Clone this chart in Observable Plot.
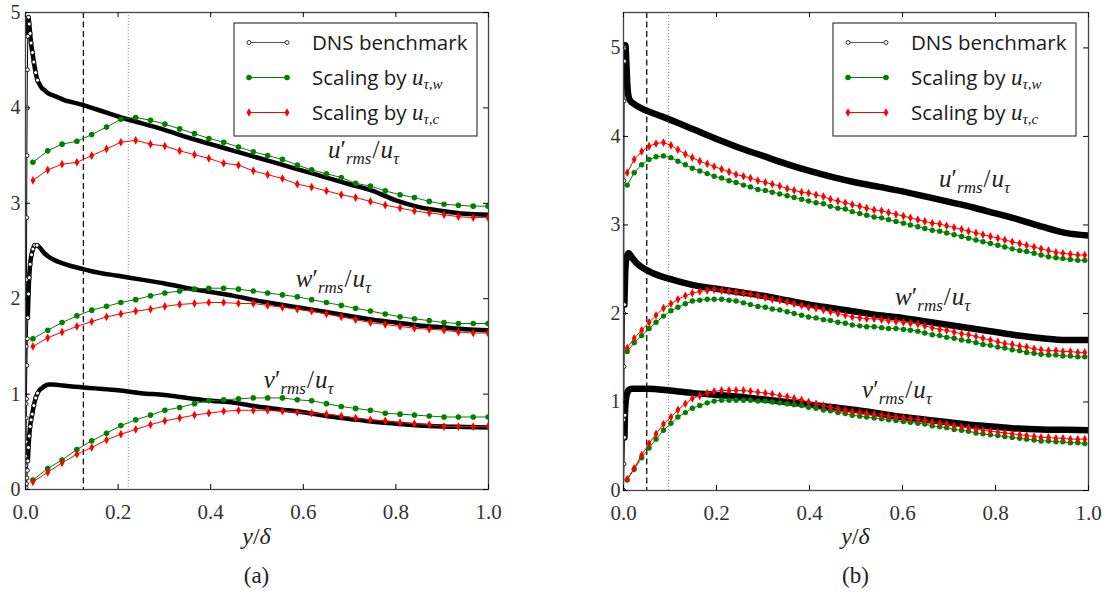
<!DOCTYPE html>
<html>
<head>
<meta charset="utf-8">
<script src="https://cdn.jsdelivr.net/npm/d3@7"></script>
<script src="https://cdn.jsdelivr.net/npm/@observablehq/plot@0.6"></script>
<style>
html,body{margin:0;padding:0;background:#fff;}
#root{position:relative;width:1112px;height:594px;overflow:hidden;background:#fff;}
#root svg{position:absolute;top:0;}
</style>
</head>
<body>
<div id="root"></div>
<script>
// ---------- ticks ----------
const xTicks = [0, 0.2, 0.4, 0.6, 0.8, 1.0];
const yTicks = [0, 1, 2, 3, 4, 5];

// ---------- panel (a) : DNS benchmark ----------
const aDnsUx = [0,0.0005,0.001,0.0015,0.002,0.0025,0.003,0.0035,0.004,0.005,0.0065,0.008,0.01,0.012,0.015,0.018,0.022,0.026,0.03,0.035,0.04,0.05,0.06,0.07,0.085,0.1,0.125,0.15,0.175,0.2,0.25,0.3,0.35,0.4,0.45,0.5,0.55,0.6,0.65,0.7,0.75,0.8,0.85,0.9,0.95,1.0];
const aDnsU  = [0,0.35,0.9,1.5,2.2,2.85,3.5,4.0,4.4,4.75,4.95,4.88,4.78,4.68,4.58,4.48,4.37,4.29,4.25,4.21,4.19,4.15,4.13,4.11,4.08,4.06,4.03,3.99,3.95,3.91,3.84,3.77,3.69,3.62,3.55,3.48,3.41,3.34,3.27,3.20,3.13,3.03,2.96,2.92,2.89,2.88];
const aDnsWx = [0,0.0005,0.001,0.0015,0.002,0.003,0.004,0.005,0.0065,0.008,0.01,0.013,0.016,0.02,0.025,0.03,0.04,0.05,0.06,0.08,0.1,0.125,0.15,0.2,0.25,0.3,0.35,0.4,0.45,0.5,0.55,0.6,0.65,0.7,0.75,0.8,0.85,0.9,0.95,1.0];
const aDnsW  = [0,0.25,0.5,0.75,0.95,1.3,1.58,1.8,2.05,2.22,2.36,2.46,2.52,2.56,2.56,2.54,2.48,2.44,2.41,2.37,2.34,2.31,2.28,2.24,2.20,2.16,2.11,2.07,2.03,1.98,1.94,1.90,1.86,1.82,1.78,1.75,1.72,1.70,1.68,1.67];
const aDnsVx = [0,0.001,0.002,0.003,0.004,0.005,0.0065,0.008,0.01,0.012,0.0145,0.018,0.022,0.026,0.03,0.035,0.04,0.05,0.06,0.08,0.1,0.125,0.15,0.2,0.25,0.3,0.35,0.4,0.45,0.5,0.55,0.6,0.65,0.7,0.75,0.8,0.85,0.9,0.95,1.0];
const aDnsV  = [0,0.02,0.06,0.12,0.2,0.3,0.44,0.56,0.66,0.73,0.79,0.88,0.96,1.01,1.04,1.06,1.08,1.10,1.10,1.09,1.08,1.07,1.06,1.04,1.01,0.99,0.96,0.93,0.91,0.87,0.84,0.81,0.77,0.74,0.71,0.69,0.67,0.66,0.655,0.65];

// ---------- panel (a) : scaled LES ----------
const aSimX = [0.016,0.048,0.079,0.111,0.143,0.175,0.206,0.238,0.270,0.301,0.333,0.365,0.396,0.428,0.460,0.492,0.523,0.555,0.587,0.618,0.650,0.682,0.713,0.745,0.777,0.809,0.840,0.872,0.904,0.935,0.967,0.999];
const aGreenU = [3.43,3.55,3.62,3.65,3.72,3.80,3.88,3.90,3.87,3.83,3.78,3.73,3.68,3.64,3.59,3.54,3.50,3.46,3.40,3.35,3.31,3.27,3.21,3.18,3.13,3.09,3.06,3.02,2.99,2.98,2.97,2.97];
const aRedU   = [3.24,3.35,3.41,3.43,3.50,3.57,3.64,3.66,3.62,3.60,3.55,3.51,3.47,3.42,3.40,3.34,3.30,3.26,3.20,3.17,3.13,3.09,3.06,3.02,2.98,2.95,2.92,2.90,2.88,2.86,2.85,2.85];
const aGreenW = [1.58,1.67,1.75,1.82,1.88,1.92,1.96,1.99,2.03,2.06,2.08,2.10,2.11,2.11,2.10,2.08,2.06,2.04,2.02,1.99,1.96,1.93,1.90,1.87,1.84,1.81,1.79,1.77,1.75,1.74,1.74,1.74];
const aRedW   = [1.50,1.59,1.65,1.71,1.76,1.81,1.84,1.87,1.89,1.92,1.94,1.95,1.96,1.96,1.95,1.95,1.93,1.91,1.89,1.87,1.84,1.81,1.78,1.75,1.73,1.71,1.69,1.68,1.67,1.65,1.64,1.64];
const aGreenV = [0.10,0.22,0.31,0.42,0.51,0.59,0.67,0.73,0.78,0.83,0.86,0.90,0.93,0.94,0.95,0.96,0.96,0.96,0.94,0.93,0.90,0.87,0.85,0.83,0.80,0.79,0.78,0.77,0.76,0.76,0.76,0.76];
const aRedV   = [0.08,0.18,0.28,0.37,0.44,0.52,0.58,0.63,0.68,0.72,0.75,0.78,0.80,0.82,0.83,0.83,0.83,0.82,0.81,0.80,0.79,0.77,0.75,0.73,0.72,0.70,0.69,0.68,0.66,0.66,0.66,0.66];

// ---------- panel (b) : DNS benchmark ----------
const bDnsUx = [0,0.0004,0.0008,0.0013,0.002,0.003,0.004,0.006,0.008,0.011,0.015,0.022,0.03,0.05,0.075,0.1,0.15,0.2,0.25,0.3,0.35,0.4,0.45,0.5,0.55,0.6,0.65,0.7,0.75,0.8,0.85,0.9,0.95,1.0];
const bDnsU  = [0,2.0,3.5,4.4,4.85,5.0,5.03,4.85,4.6,4.45,4.4,4.37,4.34,4.29,4.24,4.19,4.08,3.97,3.87,3.78,3.69,3.61,3.54,3.48,3.43,3.38,3.32,3.26,3.20,3.13,3.06,2.98,2.91,2.88];
const bDnsWx = [0,0.0005,0.001,0.002,0.004,0.007,0.011,0.02,0.03,0.05,0.075,0.1,0.15,0.2,0.25,0.3,0.35,0.4,0.45,0.5,0.55,0.6,0.65,0.7,0.75,0.8,0.85,0.9,0.95,1.0];
const bDnsW  = [0,0.8,1.4,2.1,2.5,2.64,2.68,2.62,2.56,2.49,2.43,2.39,2.32,2.28,2.24,2.20,2.15,2.10,2.06,2.02,1.98,1.95,1.91,1.87,1.83,1.79,1.75,1.72,1.70,1.70];
const bDnsVx = [0,0.001,0.002,0.003,0.005,0.008,0.012,0.02,0.05,0.1,0.15,0.2,0.25,0.3,0.35,0.4,0.45,0.5,0.55,0.6,0.65,0.7,0.75,0.8,0.85,0.9,0.95,1.0];
const bDnsV  = [0,0.3,0.6,0.85,1.02,1.10,1.14,1.15,1.15,1.13,1.10,1.08,1.06,1.03,1.00,0.97,0.94,0.91,0.87,0.83,0.80,0.77,0.74,0.72,0.70,0.69,0.685,0.68];

// ---------- panel (b) : scaled LES ----------
const bSimX = [0.008,0.023,0.039,0.055,0.070,0.086,0.102,0.117,0.133,0.148,0.164,0.180,0.195,0.211,0.227,0.242,0.258,0.273,0.289,0.305,0.320,0.336,0.352,0.367,0.383,0.398,0.414,0.430,0.445,0.461,0.477,0.492,0.508,0.523,0.539,0.555,0.570,0.586,0.602,0.617,0.633,0.648,0.664,0.680,0.695,0.711,0.727,0.742,0.758,0.773,0.789,0.805,0.820,0.836,0.852,0.867,0.883,0.898,0.914,0.930,0.945,0.961,0.977,0.992];
const bRedU   = [3.59,3.74,3.83,3.89,3.92,3.93,3.90,3.85,3.80,3.76,3.72,3.69,3.66,3.63,3.60,3.57,3.55,3.53,3.50,3.48,3.46,3.44,3.41,3.39,3.37,3.36,3.34,3.32,3.29,3.27,3.25,3.23,3.21,3.19,3.17,3.16,3.14,3.12,3.10,3.08,3.06,3.04,3.02,3.01,2.99,2.97,2.95,2.93,2.91,2.89,2.87,2.85,2.83,2.81,2.79,2.77,2.75,2.73,2.71,2.69,2.68,2.67,2.66,2.66];
const bGreenU = [3.45,3.59,3.68,3.74,3.77,3.78,3.76,3.72,3.68,3.64,3.61,3.58,3.55,3.53,3.50,3.48,3.45,3.43,3.40,3.39,3.37,3.35,3.33,3.31,3.29,3.27,3.25,3.24,3.21,3.19,3.18,3.15,3.13,3.11,3.09,3.08,3.06,3.04,3.02,3.00,2.98,2.96,2.94,2.93,2.91,2.89,2.87,2.85,2.83,2.81,2.79,2.77,2.75,2.73,2.71,2.70,2.68,2.66,2.64,2.63,2.62,2.61,2.60,2.60];
const bRedW   = [1.61,1.72,1.81,1.90,1.98,2.06,2.11,2.16,2.20,2.23,2.25,2.26,2.27,2.26,2.25,2.24,2.23,2.22,2.20,2.18,2.16,2.15,2.13,2.11,2.09,2.07,2.06,2.04,2.02,2.00,1.98,1.96,1.95,1.94,1.94,1.93,1.92,1.91,1.90,1.89,1.88,1.86,1.84,1.82,1.81,1.79,1.77,1.76,1.74,1.72,1.70,1.68,1.66,1.65,1.63,1.62,1.60,1.59,1.58,1.58,1.57,1.57,1.56,1.56];
const bGreenW = [1.57,1.67,1.75,1.83,1.90,1.97,2.03,2.07,2.11,2.14,2.15,2.16,2.16,2.16,2.15,2.14,2.12,2.10,2.08,2.07,2.05,2.04,2.02,2.00,1.98,1.96,1.95,1.93,1.92,1.90,1.89,1.87,1.86,1.85,1.85,1.84,1.83,1.83,1.82,1.81,1.80,1.78,1.76,1.75,1.73,1.72,1.70,1.69,1.67,1.65,1.64,1.62,1.61,1.59,1.58,1.56,1.55,1.54,1.53,1.53,1.52,1.52,1.51,1.51];
const bRedV   = [0.13,0.25,0.40,0.53,0.64,0.75,0.83,0.91,0.98,1.04,1.07,1.10,1.12,1.13,1.13,1.13,1.13,1.12,1.11,1.10,1.09,1.07,1.06,1.04,1.02,1.00,0.98,0.96,0.94,0.92,0.90,0.89,0.88,0.87,0.86,0.85,0.84,0.83,0.82,0.81,0.80,0.79,0.77,0.76,0.75,0.73,0.72,0.71,0.69,0.68,0.67,0.66,0.65,0.64,0.63,0.62,0.61,0.60,0.60,0.59,0.59,0.58,0.58,0.58];
const bGreenV = [0.12,0.24,0.37,0.48,0.58,0.68,0.76,0.83,0.88,0.93,0.96,0.99,1.01,1.02,1.02,1.02,1.02,1.02,1.01,1.01,1.00,0.99,0.98,0.97,0.96,0.94,0.93,0.91,0.90,0.88,0.87,0.85,0.84,0.83,0.82,0.81,0.80,0.79,0.78,0.77,0.76,0.75,0.73,0.72,0.71,0.69,0.68,0.67,0.65,0.64,0.63,0.62,0.61,0.60,0.59,0.58,0.57,0.56,0.56,0.55,0.55,0.54,0.54,0.53];

// ---------- reference lines ----------
const aDashed = [0.125], aDotted = [0.222];
const bDashed = [0.05],  bDotted = [0.097];

// ---------- curve labels ----------
const curveLabels = ["u′rms/uτ", "w′rms/uτ", "v′rms/uτ"];
const aLabelX = [0.73, 0.665, 0.59],  aLabelY = [3.48, 2.12, 1.06];
const bLabelX = [0.755, 0.665, 0.588], bLabelY = [3.43, 2.09, 1.04];

// ---------- legend / captions ----------
const legendText = ["DNS benchmark", "Scaling by ", "Scaling by "];
const legendSub = ["", "τ,w", "τ,c"];
const panelTags = ["(a)", "(b)"];

// ================================================================
const SERIF = "Liberation Serif";
const rows = (xs, ys, comp) => xs.map((x, i) => ({x, y: ys[i], comp}));
const thinDiamond = {
  draw(ctx, size) {
    const r = Math.sqrt(size / Math.PI);
    const h = r * 1.45, w = r * 0.8;
    ctx.moveTo(0, -h); ctx.lineTo(w, 0); ctx.lineTo(0, h); ctx.lineTo(-w, 0); ctx.closePath();
  }
};
const GREEN = "#008000", RED = "#ff0000";

function richLabel(plain) {
  const c = plain[0];
  return `<tspan font-style="italic">${c}</tspan><tspan>′</tspan>` +
    `<tspan font-style="italic" font-size="17" dy="6">rms</tspan>` +
    `<tspan dy="-6" dx="1">/</tspan><tspan font-style="italic" dx="1">u</tspan>` +
    `<tspan font-style="italic" font-size="17" dy="6">τ</tspan>`;
}

function panel(cfg) {
  const W = 556, H = 520, mT = 12;
  const innerW = W - cfg.mL - cfg.mR, innerH = H - mT - cfg.mB;
  const dns = [...rows(cfg.dnsUx, cfg.dnsU, "u"), ...rows(cfg.dnsWx, cfg.dnsW, "w"), ...rows(cfg.dnsVx, cfg.dnsV, "v")];
  const green = [...rows(cfg.simX, cfg.gU, "u"), ...rows(cfg.simX, cfg.gW, "w"), ...rows(cfg.simX, cfg.gV, "v")];
  const red = [...rows(cfg.simX, cfg.rU, "u"), ...rows(cfg.simX, cfg.rW, "w"), ...rows(cfg.simX, cfg.rV, "v")];
  const annot = curveLabels.map((t, i) => ({t, x: cfg.lx[i], y: cfg.ly[i]}));
  const marks = [
    Plot.ruleX(cfg.dashed, {stroke: "#111", strokeWidth: 1.3, strokeDasharray: "6,3.5"}),
    Plot.ruleX(cfg.dotted, {stroke: "#888", strokeWidth: 1, strokeDasharray: "1,2"}),
    Plot.line(dns, {x: "x", y: "y", z: "comp", stroke: "#000", strokeWidth: 1, clip: true}),
    Plot.line(dns, {filter: d => d.x >= cfg.bandFrom, x: "x", y: "y", z: "comp", stroke: "#000", strokeWidth: cfg.bandW, strokeLinejoin: "round", curve: "monotone-x", clip: true}),
    Plot.dot(dns, {filter: d => d.x < cfg.dotsTo, x: "x", y: "y", r: 2, stroke: "#000", strokeWidth: 0.9, fill: "white", clip: true}),
    Plot.line(green, {x: "x", y: "y", z: "comp", stroke: GREEN, strokeWidth: 1, clip: true}),
    Plot.dot(green, {x: "x", y: "y", r: cfg.dotR, fill: GREEN, clip: true}),
    Plot.line(red, {x: "x", y: "y", z: "comp", stroke: RED, strokeWidth: 1, clip: true}),
    Plot.dot(red, {x: "x", y: "y", r: 3, symbol: thinDiamond, fill: RED, clip: true}),
    Plot.text(annot, {x: "x", y: "y", text: "t", textAnchor: "middle", lineAnchor: "bottom", fontSize: 25, fontFamily: SERIF, fill: "#222"}),
    Plot.frame({stroke: "#444", strokeWidth: 1.3}),
    Plot.ruleX(xTicks, {insetTop: innerH - 5, stroke: "#000"}),
    Plot.ruleX(xTicks, {insetBottom: innerH - 5, stroke: "#000"}),
    Plot.ruleY(yTicks, {insetLeft: innerW - 5, stroke: "#000"}),
    Plot.ruleY(yTicks, {insetRight: innerW - 5, stroke: "#000"}),
    Plot.axisX(xTicks, {tickSize: 0, tickPadding: 15, tickFormat: d => d.toFixed(1), label: null,
      fontSize: 21, fontFamily: SERIF, fill: "#333"}),
    Plot.axisY(yTicks, {tickSize: 0, tickPadding: cfg.yPad, tickFormat: d => String(d), label: null,
      fontSize: 20, fontFamily: SERIF, fill: "#333"})
  ];
  const svg = Plot.plot({
    width: W, height: H,
    marginTop: mT, marginBottom: cfg.mB, marginLeft: cfg.mL, marginRight: cfg.mR,
    x: {domain: [0, 1], label: null},
    y: {domain: [0, cfg.yMax], label: null},
    style: {fontFamily: SERIF, fontSize: "21px", color: "#333", background: "transparent", overflow: "visible"},
    marks
  });
  svg.style.left = cfg.left + "px";
  d3.select(svg).selectAll("text").style("font-family", SERIF);
  d3.select(svg).selectAll("text").each(function () {
    if (curveLabels.includes(this.textContent)) this.innerHTML = richLabel(this.textContent);
  });
  return svg;
}

const root = document.getElementById("root");
root.appendChild(panel({
  left: 0, mL: 25, mR: 68, mB: 31, yMax: 5, yPad: 5,
  dnsUx: aDnsUx, dnsU: aDnsU, dnsWx: aDnsWx, dnsW: aDnsW, dnsVx: aDnsVx, dnsV: aDnsV,
  simX: aSimX, gU: aGreenU, rU: aRedU, gW: aGreenW, rW: aRedW, gV: aGreenV, rV: aRedV,
  dashed: aDashed, dotted: aDotted, lx: aLabelX, ly: aLabelY,
  bandFrom: 0.005, bandW: 4.5, dotsTo: 0.03, dotR: 2.8
}));
root.appendChild(panel({
  left: 556, mL: 67, mR: 24, mB: 30, yMax: 5.4, yPad: 3,
  dnsUx: bDnsUx, dnsU: bDnsU, dnsWx: bDnsWx, dnsW: bDnsW, dnsVx: bDnsVx, dnsV: bDnsV,
  simX: bSimX, gU: bGreenU, rU: bRedU, gW: bGreenW, rW: bRedW, gV: bGreenV, rV: bRedV,
  dashed: bDashed, dotted: bDotted, lx: bLabelX, ly: bLabelY,
  bandFrom: 0.002, bandW: 6.5, dotsTo: 0.004, dotR: 2.7
}));

// ---------- overlay: legends and captions ----------
const ov = d3.select(root).append("svg").attr("width", 1112).attr("height", 594)
  .style("left", "0px").style("pointer-events", "none");

function legend(bx) {
  const g = ov.append("g");
  g.append("rect").attr("x", bx).attr("y", 23).attr("width", 243).attr("height", 113)
    .attr("fill", "white").attr("stroke", "#3a3a3a").attr("stroke-width", 1.2);
  const ys = [42.5, 77.5, 112.5];
  const x1 = bx + 15, x2 = bx + 53;
  legendText.forEach((t, i) => {
    const y = ys[i];
    const col = i === 0 ? "#555" : i === 1 ? GREEN : RED;
    g.append("line").attr("x1", x1).attr("x2", x2).attr("y1", y).attr("y2", y).attr("stroke", col).attr("stroke-width", 1.2);
    [x1, x2].forEach(cx => {
      if (i === 0) g.append("circle").attr("cx", cx).attr("cy", y).attr("r", 2).attr("fill", "white").attr("stroke", "#333").attr("stroke-width", 1);
      else if (i === 1) g.append("circle").attr("cx", cx).attr("cy", y).attr("r", 2.8).attr("fill", GREEN);
      else g.append("path").attr("d", `M${cx},${y - 4.3}L${cx + 2.4},${y}L${cx},${y + 4.3}L${cx - 2.4},${y}Z`).attr("fill", RED);
    });
    const tx = g.append("text").attr("x", bx + 78).attr("y", y + 7.5)
      .attr("font-family", "Open Sans").attr("font-size", 20.5).attr("fill", "#1a1a1a").text(t);
    if (legendSub[i]) {
      tx.append("tspan").attr("font-family", SERIF).attr("font-style", "italic").attr("font-size", 23).text("u");
      tx.append("tspan").attr("font-family", SERIF).attr("font-style", "italic").attr("font-size", 15).attr("dy", 4).text(legendSub[i]);
    }
  });
}
legend(234);
legend(833);

function caption(cx, tag) {
  const t = ov.append("text").attr("x", cx).attr("y", 544).attr("text-anchor", "middle")
    .attr("font-family", SERIF).attr("font-size", 24).attr("fill", "#222");
  t.append("tspan").attr("font-style", "italic").text("y");
  t.append("tspan").text("/");
  t.append("tspan").attr("font-style", "italic").text("δ");
  ov.append("text").attr("x", cx).attr("y", 583).attr("text-anchor", "middle")
    .attr("font-family", SERIF).attr("font-size", 23).attr("fill", "#222").text(tag);
}
caption(256.5, panelTags[0]);
caption(855.5, panelTags[1]);
</script>
</body>
</html>
